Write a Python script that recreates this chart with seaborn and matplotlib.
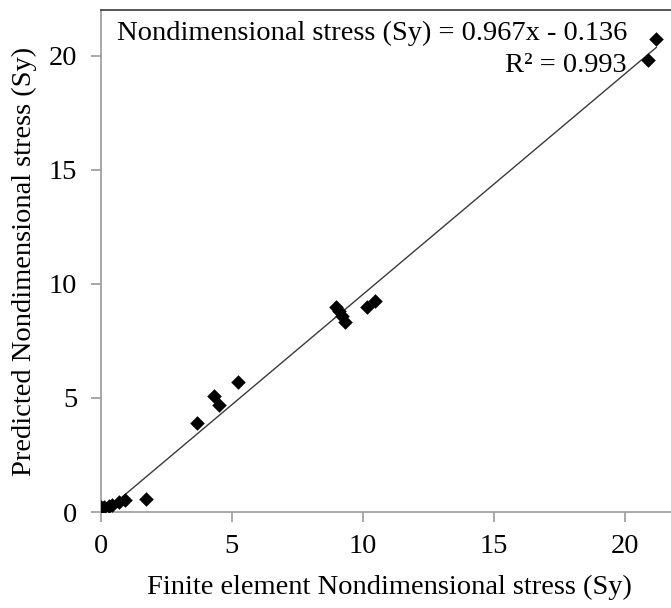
import matplotlib
matplotlib.use("Agg")
import matplotlib.pyplot as plt
import seaborn as sns
import numpy as np
import pandas as pd

# Data
fe_stress = [0.02, 0.12, 0.3, 0.42, 0.68, 0.93, 1.73, 3.66, 4.32, 4.53, 5.24,
             8.98, 9.1, 9.22, 9.32, 10.15, 10.47, 20.86, 21.2]
pred_stress = [0.2, 0.24, 0.26, 0.3, 0.44, 0.52, 0.57, 3.88, 5.07, 4.69, 5.68,
               8.98, 8.8, 8.6, 8.33, 8.98, 9.23, 19.81, 20.71]
slope = 0.967
intercept = -0.136
r_squared = 0.993
x_ticks = [0, 5, 10, 15, 20]
y_ticks = [0, 5, 10, 15, 20]
x_label = "Finite element Nondimensional stress (Sy)"
y_label = "Predicted Nondimensional stress (Sy)"

df = pd.DataFrame({"fe": fe_stress, "pred": pred_stress})
x_line = np.array([min(fe_stress), max(fe_stress)])
line_df = pd.DataFrame({"x": x_line, "y": slope * x_line + intercept})

sns.set_theme(style="white")
plt.rcParams["font.family"] = ["Liberation Serif", "DejaVu Serif"]

FS = 20.5
W, H = 671, 608
fig = plt.figure(figsize=(W / 100, H / 100), dpi=100)
x0_px, y0_px = 100.7, 512.0
px_per_x = 26.215
top_px = 10.0
ax = fig.add_axes([x0_px / W, (H - y0_px) / H, 22 * px_per_x / W, (y0_px - top_px) / H])

sns.lineplot(data=line_df, x="x", y="y", ax=ax, color="#3a3a3a", linewidth=1.0, zorder=2)
sns.scatterplot(data=df, x="fe", y="pred", ax=ax, marker="D", s=55, color="black",
                edgecolor="black", linewidth=0, zorder=3)

ax.set_xlim(0, 22)
ax.set_ylim(0, 22)
ax.set_xticks(x_ticks)
ax.set_yticks(y_ticks)
ax.set_xticklabels([str(t) for t in x_ticks])
ax.set_yticklabels([str(t) for t in y_ticks])
ax.tick_params(axis="both", direction="out", length=7, width=1.2, color="#9a9a9a",
               labelsize=FS, labelcolor="black")
ax.tick_params(axis="x", bottom=True, pad=9)
ax.tick_params(axis="y", left=True, pad=10)
for side in ["left", "bottom"]:
    ax.spines[side].set_color("#9a9a9a")
    ax.spines[side].set_linewidth(1.2)
ax.spines["top"].set_color("#3a3a3a")
ax.spines["top"].set_linewidth(1.2)
ax.spines["right"].set_visible(False)
ax.grid(False)

ax.set_xlabel(x_label, fontsize=FS, color="black", labelpad=11)
ax.set_ylabel(y_label, fontsize=FS, color="black", labelpad=8)

fig.text(627 / W, 1 - 33 / H, "Nondimensional stress (Sy) = 0.967x - 0.136",
         ha="right", va="center", fontsize=FS, color="black")
fig.text(627 / W, 1 - 66 / H, "R² = 0.993", ha="right", va="center",
         fontsize=FS, color="black")

fig.savefig("out.png", dpi=100)
